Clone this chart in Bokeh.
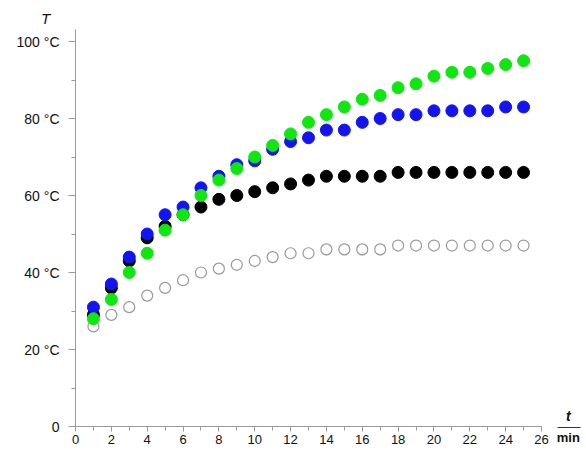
from bokeh.plotting import figure
from bokeh.models import FixedTicker, Label, Range1d
from bokeh.embed import file_html
from bokeh.resources import INLINE

t = list(range(1, 26))
green = [28, 33, 40, 45, 51, 55, 60, 64, 67, 70, 73, 76, 79, 81, 83, 85, 86, 88, 89, 91, 92, 92, 93, 94, 95]
blue = [31, 37, 44, 50, 55, 57, 62, 65, 68, 69, 72, 74, 75, 77, 77, 79, 80, 81, 81, 82, 82, 82, 82, 83, 83]
black = [29, 36, 43, 49, 52, 55, 57, 59, 60, 61, 62, 63, 64, 65, 65, 65, 65, 66, 66, 66, 66, 66, 66, 66, 66]
open_ = [26, 29, 31, 34, 36, 38, 40, 41, 42, 43, 44, 45, 45, 46, 46, 46, 46, 47, 47, 47, 47, 47, 47, 47, 47]

x_ticks = list(range(0, 27, 2))
x_minor = list(range(1, 26, 2))
y_ticks = [0, 20, 40, 60, 80, 100]
y_minor = [10, 30, 50, 70, 90]
y_labels = {0: "0", 20: "20 °C", 40: "40 °C", 60: "60 °C", 80: "80 °C", 100: "100 °C"}

FONT = "Liberation Sans"

p = figure(frame_width=584, frame_height=448, min_border=0,
           x_range=Range1d(-4.185, 28.40), y_range=Range1d(-5.714, 110.65),
           output_backend="svg", toolbar_location=None)
p.outline_line_color = None
p.grid.visible = False
p.background_fill_color = "white"

for ax in (p.xaxis, p.yaxis):
    ax.fixed_location = 0
    ax.axis_line_color = "#999999"
    ax.major_tick_line_color = "#999999"
    ax.minor_tick_line_color = "#999999"
    ax.major_tick_in = 0
    ax.minor_tick_in = 0
    ax.major_label_text_font = FONT
    ax.major_label_text_font_size = "14px"
    ax.major_label_text_color = "#111111"

p.xaxis.ticker = FixedTicker(ticks=x_ticks, minor_ticks=x_minor)
p.xaxis.bounds = (0, 26)
p.xaxis.major_tick_out = 5
p.xaxis.minor_tick_out = 4
p.xaxis.major_label_standoff = 3
p.xaxis.major_label_text_font_size = "13px"

p.yaxis.ticker = FixedTicker(ticks=y_ticks, minor_ticks=y_minor)
p.yaxis.major_label_overrides = y_labels
p.yaxis.bounds = (0, 103)
p.yaxis.major_tick_out = 7
p.yaxis.minor_tick_out = 4
p.yaxis.major_label_standoff = 9

p.scatter(t, open_, size=11, fill_color="white", line_color="#999999", line_width=1.2)
p.scatter(t, black, size=12, fill_color="black", line_color="black")
p.scatter(t, blue, size=12, fill_color="#1414f0", line_color="#1414f0")
p.scatter(t, green, size=12, fill_color="#10e610", line_color="#10e610")

p.add_layout(Label(x=-1.67, y=106, text="T", text_font=FONT, text_font_style="italic",
                   text_font_size="15px", text_align="center", text_baseline="middle",
                   text_color="#111111"))
p.add_layout(Label(x=27.5, y=2.6, text="t", text_font=FONT, text_font_style="bold italic",
                   text_font_size="14px", text_align="center", text_baseline="middle",
                   text_color="#111111"))
p.add_layout(Label(x=27.5, y=-2.9, text="min", text_font=FONT, text_font_style="bold",
                   text_font_size="13px", text_align="center", text_baseline="middle",
                   text_color="#111111"))
p.line([26.9, 28.18], [-0.26, -0.26], line_color="#333333", line_width=1)

open("out.html", "w").write(file_html(p, INLINE))
